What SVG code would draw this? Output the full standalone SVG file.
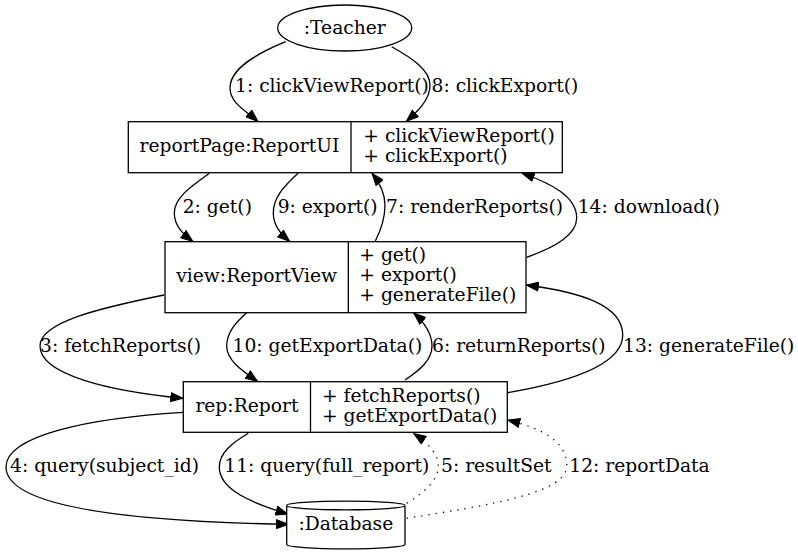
<svg xmlns="http://www.w3.org/2000/svg" width="798" height="555" viewBox="0 0 798 555">
<style>
text{font-family:"DejaVu Serif","Liberation Serif",serif;font-size:18.7px;fill:#000}
.c{text-anchor:middle}
.n{fill:#fff;stroke:#000;stroke-width:1.3}
.e{fill:none;stroke:#000;stroke-width:1.3}
.d{stroke-dasharray:1.3,6}
</style>
<defs>
<marker id="ah" viewBox="0 0 13 10" refX="13" refY="5" markerWidth="13" markerHeight="10" markerUnits="userSpaceOnUse" orient="auto">
<path d="M0.5,0.5 L12.5,5 L0.5,9.5 Z" fill="#000" stroke="#000" stroke-width="1"/>
</marker>
</defs>
<rect width="798" height="555" fill="#fff"/>
<g id="edges">
<path class="e" marker-end="url(#ah)" d="M285.7,41.7 C258,53 230,68 230,88 C230,103 246,111 258.3,121.7"/>
<text x="235" y="92">1: clickViewReport()</text>
<path class="e" marker-end="url(#ah)" d="M391.7,46.7 C412,58 430,70 430,85 C430,100 418,111 406,121.7"/>
<text x="431.5" y="92">8: clickExport()</text>
<path class="e" marker-end="url(#ah)" d="M209.3,173.3 C190,187 174.3,198 174.3,213 C174.3,226 183,234 193.3,241.7"/>
<text x="182.7" y="213">2: get()</text>
<path class="e" marker-end="url(#ah)" d="M298.3,173 C283,187 273.3,198 273.3,213 C273.3,226 281,234 290,241.7"/>
<text x="277.7" y="213">9: export()</text>
<path class="e" marker-end="url(#ah)" d="M375,241.7 C381,230 385,218 385,205 C385,192 379,182 371.7,173"/>
<text x="386" y="213">7: renderReports()</text>
<path class="e" marker-end="url(#ah)" d="M526.7,257.3 C555,247 576.7,235 576.7,218 C576.7,196 550,183 521.7,173"/>
<text x="577.7" y="213">14: download()</text>
<path class="e" marker-end="url(#ah)" d="M164,295 C100,308 40,322 40,346 C40,375 110,391 183.3,398.3"/>
<text x="40" y="352">3: fetchReports()</text>
<path class="e" marker-end="url(#ah)" d="M246.7,312.7 C235,323 226.7,333 226.7,346 C226.7,360 241,370 258,381.7"/>
<text x="232.5" y="352">10: getExportData()</text>
<path class="e" marker-end="url(#ah)" d="M405,380 C420,370 432,360 432,346 C432,333 424,322 413.3,312.7"/>
<text x="432" y="352">6: returnReports()</text>
<path class="e" marker-end="url(#ah)" d="M507.3,392.7 C570,382 622.7,365 622.7,335 C622.7,305 580,292 526,285"/>
<text x="623" y="352">13: generateFile()</text>
<path class="e" marker-end="url(#ah)" d="M183.3,412.3 C90,418 6,435 6,467 C6,510 150,522 289,524.3"/>
<text x="10" y="472">4: query(subject_id)</text>
<path class="e" marker-end="url(#ah)" d="M248.3,433.3 C232,443 219.3,453 219.3,467 C219.3,490 252,503 288.3,514.3"/>
<text x="224.3" y="472">11: query(full_report)</text>
<path class="e d" marker-end="url(#ah)" d="M406.7,503.3 C425,492 438.3,480 438.3,466 C438.3,452 425,441 413.3,433.3"/>
<text x="441" y="472">5: resultSet</text>
<path class="e d" marker-end="url(#ah)" d="M406.7,518.3 C490,505 566.8,493 566.8,466 C566.8,440 540,428 507.3,420"/>
<text x="569.3" y="472">12: reportData</text>
</g>
<g id="teacher">
<ellipse class="n" cx="344.7" cy="28" rx="67" ry="23"/>
<text class="c" x="344.8" y="33.5">:Teacher</text>
</g>
<g id="reportUI">
<rect class="n" x="128.3" y="121.7" width="434" height="51"/>
<line class="e" x1="351" y1="121.7" x2="351" y2="172.7"/>
<text class="c" x="239.5" y="152">reportPage:ReportUI</text>
<text x="363.3" y="142">+ clickViewReport()</text>
<text x="363.3" y="162">+ clickExport()</text>
</g>
<g id="reportView">
<rect class="n" x="165" y="241.7" width="361" height="71"/>
<line class="e" x1="348.3" y1="241.7" x2="348.3" y2="312.7"/>
<text class="c" x="256.7" y="282">view:ReportView</text>
<text x="359.3" y="261">+ get()</text>
<text x="359.3" y="281">+ export()</text>
<text x="359.3" y="301">+ generateFile()</text>
</g>
<g id="report">
<rect class="n" x="183.3" y="381.7" width="324" height="50.6"/>
<line class="e" x1="310.5" y1="381.7" x2="310.5" y2="432.3"/>
<text class="c" x="246.9" y="412">rep:Report</text>
<text x="322" y="402">+ fetchReports()</text>
<text x="322" y="422">+ getExportData()</text>
</g>
<g id="database">
<path class="n" d="M405,505.5 C405,507.9 378.5,509.8 345.8,509.8 C313.2,509.8 286.7,507.9 286.7,505.5 L286.7,544.5 C286.7,546.9 313.2,548.8 345.8,548.8 C378.5,548.8 405,546.9 405,544.5 Z"/>
<path class="e" d="M405,505.5 C405,503.1 378.5,501.2 345.8,501.2 C313.2,501.2 286.7,503.1 286.7,505.5"/>
<text class="c" x="345.8" y="530">:Database</text>
</g>
</svg>
